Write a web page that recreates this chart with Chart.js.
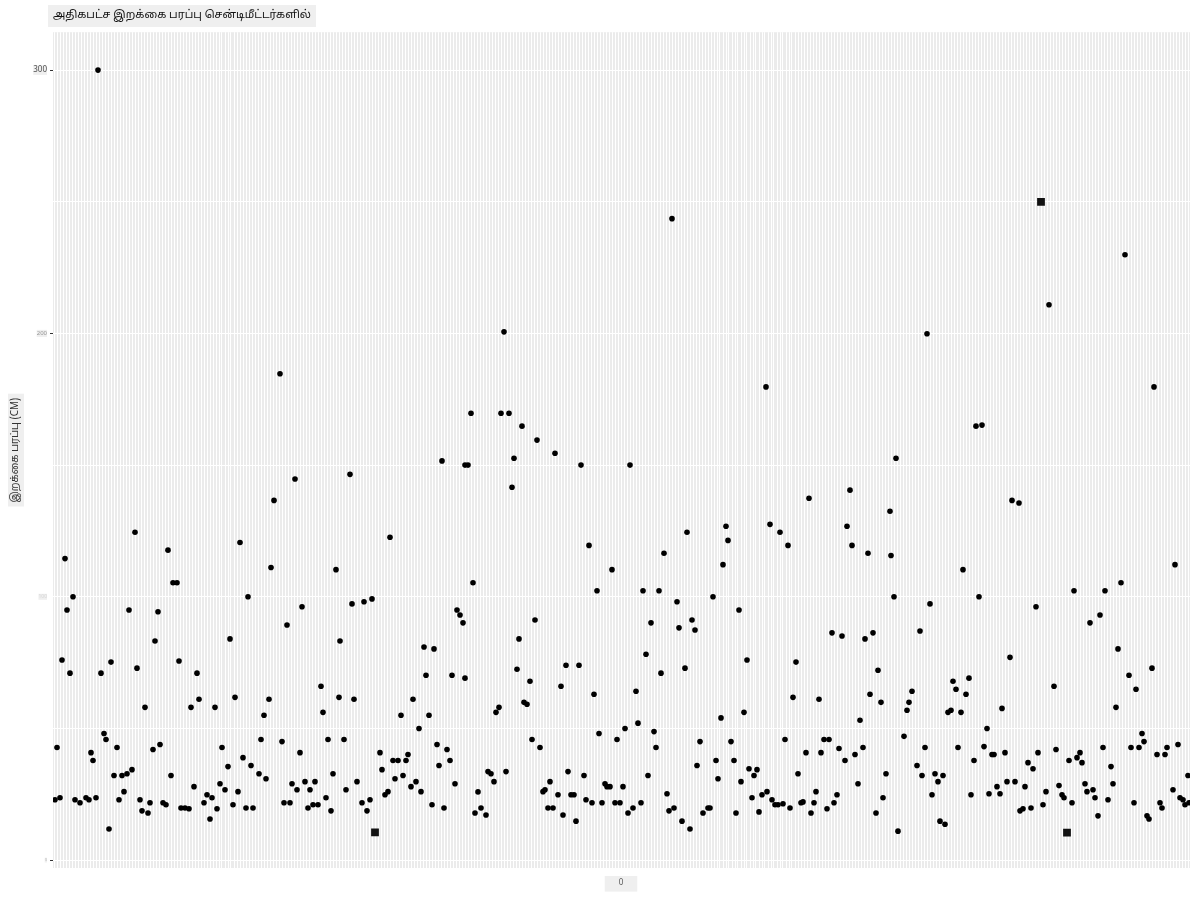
<!DOCTYPE html>
<html>
<head>
<meta charset="utf-8">
<script src="https://cdn.jsdelivr.net/npm/chart.js@4"></script>
<style>
html,body{margin:0;padding:0;background:#fff;}
canvas{display:block;}
</style>
</head>
<body>
<canvas id="c" width="1200" height="900"></canvas>
<script>
const TITLE = "அதிகபட்ச இறக்கை பரப்பு சென்டிமீட்டர்களில்";
const Y_TITLE = "இறக்கை பரப்பு (CM)";
const X_CATEGORY = "0";
const Y_TICKS = [0, 50, 100, 150, 200, 250, 300];
const Y_LABELED = [0, 100, 200, 300];

// jittered horizontal offsets around category "0" and wingspan values (cm)
const xJitter = [
-350,-285,-448,-444,-548,-554,-492,-463,-373,-319,-334,-466,-391,-281,-559,-510,-442,-551,-520,-484,
-424,-300,-476,-430,-422,-406,-386,-352,-357,-298,-282,-517,-515,-564,-530,-528,-504,-468,-461,-507,
-499,-494,-489,-450,-497,-502,-566,-561,-546,-541,-535,-532,-525,-512,-481,-479,-473,-471,-458,-455,
-440,-436,-432,-427,-417,-414,-409,-411,-404,-399,-393,-401,-396,-388,-383,-378,-370,-375,-368,-362,
-360,-355,-339,-337,-331,-329,-324,-321,-316,-311,-313,-308,-306,-303,-295,-293,-288,-290,
-9,-148,-24,-269,-257,-249,-164,-161,-158,-86,-102,-197,-187,-195,-169,-156,-104,-91,-55,-42,
-60,-27,-267,-208,-220,-192,-202,-125,-122,-97,-94,4,-22,-4,-277,-241,-239,-228,-223,-215,
-213,-226,-218,-205,-210,-200,-184,-174,-182,-171,-166,-275,-264,-259,-254,-251,-236,-233,-189,-177,
-143,-146,-140,-135,-133,-130,-127,-115,-89,-81,-78,-76,-71,-73,-68,-63,-58,-53,-50,-47,
-45,-37,-35,-29,-19,-16,-14,-11,-6,-1,2,
102,22,38,92,273,56,118,30,58,71,74,25,40,64,126,175,211,221,244,252,
257,249,260,15,17,33,35,100,123,172,198,239,79,110,164,203,208,185,200,218,
224,234,242,76,95,113,128,136,133,177,27,97,120,265,237,195,216,46,131,141,
146,151,154,157,162,169,180,182,193,190,206,213,255,262,7,12,20,48,53,61,
69,82,87,89,115,138,277,
342,554,453,484,500,309,358,415,469,479,299,389,497,531,508,515,433,495,291,288,
286,332,348,335,345,327,330,340,381,366,283,304,337,363,371,373,384,353,296,301,
314,322,317,311,350,368,376,379,386,394,404,407,412,417,435,448,456,459,461,482,
490,510,518,521,523,536,544,546,557,567,425,438,441,443,451,464,466,472,474,492,
487,477,399,402,410,422,319,324,513,526,528,539,541,552,559,562,564,568,
-523,-117,-341,-150,-120,-112,-99,-84,-66,-107,-179,-156,-153,-40,-109,-271,-326,-347,-231,-381,
-486,-453,-556,-32,
51,504,428,306,145,533,355,361,275,9,229,188,391,398,269,66,105,107,149,159,
167,226,231,247,270,43
];
const spanCm = [
111.1,110.3,105.3,105.3,100,95.0,95.0,94.3,100,96.2,89.3,83.2,84.0,83.2,76.0,75.2,75.6,71.0,71.0,72.9,
71.0,66.0,58.0,58.0,61.1,58.0,61.8,61.1,55.0,56.1,61.8,48.1,45.8,42.75,40.8,37.8,42.75,42.0,43.9,32.1,
32.1,32.8,34.35,32.1,26.0,22.9,22.9,23.7,22.9,21.8,23.7,22.9,23.7,11.8,22.9,18.7,17.9,21.8,21.8,21.0,
19.8,19.8,19.5,27.9,21.8,24.8,23.7,15.6,19.5,42.75,35.5,29.0,26.7,21.0,26.0,38.9,35.9,19.8,19.8,32.8,
45.8,30.9,45.0,21.8,21.8,29.0,26.7,40.8,29.8,26.7,19.8,21.0,29.8,21.0,23.7,45.8,32.8,18.7,
110.3,105.3,102.3,97.3,98.1,99.2,95.0,93.1,90.1,91.2,84.0,80.9,80.2,70.2,70.2,69.1,72.5,67.9,74.0,74.0,
66.0,63.0,61.1,61.1,55.0,55.0,50.0,56.1,58.0,59.9,59.2,50.0,48.1,45.8,45.8,40.8,34.35,37.8,37.8,37.8,
40.1,30.9,32.1,29.8,27.9,26.0,43.9,42.0,35.9,37.8,29.0,26.7,29.8,21.8,18.7,22.9,24.8,26.0,21.0,19.8,
25.9,17.9,19.8,17.1,33.6,32.8,29.8,33.6,45.8,42.75,26.0,26.7,29.8,19.8,19.8,24.8,17.1,33.6,24.8,24.8,
14.8,32.1,22.9,21.8,21.8,29.0,27.9,27.9,21.8,21.8,27.9,
112.2,102.3,102.3,100,100,98.1,95.0,90.1,88.2,91.2,87.4,78.2,71.0,72.9,76.0,75.2,86.3,85.1,84.0,86.3,
72.1,63.0,59.9,64.1,52.0,48.8,42.75,54.0,56.1,61.8,61.1,53.1,45.0,45.0,45.8,45.8,45.8,40.8,40.8,42.4,
37.8,40.1,42.75,35.9,37.8,37.8,34.7,34.35,32.1,32.8,32.1,30.9,29.8,32.8,29.0,26.0,24.8,25.2,23.7,24.8,
26.0,22.9,21.0,21.0,21.4,19.8,21.8,22.1,21.8,17.9,19.5,21.8,17.9,23.7,17.9,19.8,21.8,18.7,19.8,14.8,
11.8,17.9,19.8,19.8,17.9,18.3,11.0,
110.3,112.2,102.3,102.3,105.3,97.3,100,96.2,90.1,93.1,87.0,77.0,80.2,72.9,70.2,64.9,66.0,58.0,64.1,59.9,
56.9,67.9,69.1,64.9,63.0,56.1,56.9,56.1,57.6,50.0,47.0,42.75,42.75,43.1,40.1,40.1,40.8,37.8,35.9,32.1,
32.8,32.1,29.8,24.8,24.8,25.2,27.9,25.2,29.8,29.8,27.9,37.0,34.7,40.8,42.0,37.8,38.9,40.8,37.0,42.75,
35.5,42.75,42.75,48.1,45.0,40.1,40.1,42.75,43.9,32.1,26.0,28.3,24.8,23.7,21.8,29.0,26.0,26.7,23.7,29.0,
22.9,16.8,18.7,19.5,19.8,21.0,14.8,13.6,21.8,16.8,15.6,21.8,19.8,26.7,23.7,22.9,21.0,21.8,
300,200.6,184.7,169.7,169.7,169.7,164.8,159.5,154.5,152.6,151.6,150.0,150.0,150.0,141.6,146.5,144.7,136.6,122.6,120.6,
124.5,117.7,114.5,119.5,
243.6,229.9,210.9,199.9,179.7,179.7,164.8,165.2,152.6,150.0,140.5,137.4,136.6,135.6,132.5,124.5,126.8,121.4,127.5,124.5,
119.5,126.8,119.5,116.5,115.7,116.5
];
// points drawn as squares
const sqJitter = [-246, 446, 420];
const sqSpan = [10.5, 10.4, 250];

const FONT = '"Noto Sans Tamil", "Noto Sans", "DejaVu Sans", sans-serif';

const circlePts = xJitter.map((x, i) => ({x: x, y: spanCm[i]}));
const squarePts = sqJitter.map((x, i) => ({x: x, y: sqSpan[i]}));

const decor = {
  id: 'decor',
  beforeDraw(chart) {
    const {ctx, chartArea: a} = chart;
    ctx.save();
    ctx.fillStyle = '#ebebeb';
    ctx.fillRect(a.left, a.top, a.right - a.left, a.bottom - a.top);
    ctx.fillStyle = '#efefef';
    ctx.font = '11px ' + FONT;
    const w = ctx.measureText(TITLE).width;
    ctx.fillRect(a.left - 5, 5, w + 10, 22);
    ctx.font = '10px ' + FONT;
    const w2 = ctx.measureText(Y_TITLE).width;
    const cy = (a.top + a.bottom) / 2;
    ctx.fillRect(8, cy - w2 / 2 - 4, 16, w2 + 8);
    ctx.restore();
  }
};

const yFont = {300: 8, 200: 6, 100: 5, 0: 4};
const yColor = {300: '#4d4d4d', 200: '#999999', 100: '#d8d8d8', 0: '#bbbbbb'};
const yPad = {300: {x: 4, y: 3}, 200: {x: 4, y: 3}, 100: {x: 9, y: 4}, 0: {x: 4, y: 6}};

new Chart(document.getElementById('c'), {
  type: 'scatter',
  data: {
    datasets: [
      {data: circlePts, pointRadius: 2.8, pointHoverRadius: 2.8, backgroundColor: '#000', borderWidth: 0, pointStyle: 'circle'},
      {data: squarePts, pointRadius: 5.5, pointHoverRadius: 5.5, backgroundColor: '#111', borderWidth: 0, pointStyle: 'rect'}
    ]
  },
  options: {
    responsive: false,
    animation: false,
    devicePixelRatio: 1,
    layout: {padding: {left: 0, right: 10, top: 0, bottom: 0}},
    plugins: {
      legend: {display: false},
      tooltip: {enabled: false},
      title: {
        display: true,
        text: TITLE,
        align: 'start',
        fullSize: false,
        color: '#111',
        font: {family: FONT, size: 11, weight: 'normal', lineHeight: 1.2},
        padding: {top: 9, bottom: 10}
      }
    },
    scales: {
      x: {
        type: 'linear',
        min: -568,
        max: 569,
        afterBuildTicks(scale) {
          const t = [];
          for (let v = -567; v <= 567; v += 3) t.push({value: v});
          scale.ticks = t;
        },
        afterFit(scale) { scale.height = 32; },
        border: {display: false},
        grid: {color: '#ffffff', lineWidth: 1, drawTicks: false},
        ticks: {
          autoSkip: false,
          maxRotation: 0,
          minRotation: 0,
          padding: 11,
          color: '#555',
          font: {family: FONT, size: 8},
          callback: (v) => (v === 0 ? X_CATEGORY : ''),
          showLabelBackdrop: (ctx) => !!(ctx.tick && ctx.tick.value === 0),
          backdropColor: '#efefef',
          backdropPadding: {x: 14, y: 3}
        }
      },
      y: {
        type: 'linear',
        min: -3,
        max: 314.4,
        afterBuildTicks(scale) {
          scale.ticks = Y_TICKS.map(v => ({value: v}));
        },
        afterFit(scale) { scale.width = 53; },
        border: {display: false},
        grid: {
          color: '#ffffff',
          lineWidth: 1,
          drawTicks: true,
          tickLength: 3,
          tickWidth: 1,
          tickColor: (ctx) => (ctx.tick && Y_LABELED.includes(ctx.tick.value) && ctx.tick.value !== 100 ? '#333333' : 'rgba(0,0,0,0)')
        },
        title: {
          display: true,
          text: Y_TITLE,
          color: '#333',
          font: {family: FONT, size: 10},
          padding: {top: 10, bottom: 0}
        },
        ticks: {
          padding: 3,
          callback: (v) => (Y_LABELED.includes(v) ? String(v) : ''),
          font: (ctx) => ({family: FONT, size: (ctx.tick && yFont[ctx.tick.value]) || 6}),
          color: (ctx) => (ctx.tick && yColor[ctx.tick.value]) || '#999',
          showLabelBackdrop: (ctx) => !!(ctx.tick && Y_LABELED.includes(ctx.tick.value)),
          backdropColor: '#efefef',
          backdropPadding: (ctx) => (ctx.tick && yPad[ctx.tick.value]) || 3
        }
      }
    }
  },
  plugins: [decor]
});
</script>
</body>
</html>
